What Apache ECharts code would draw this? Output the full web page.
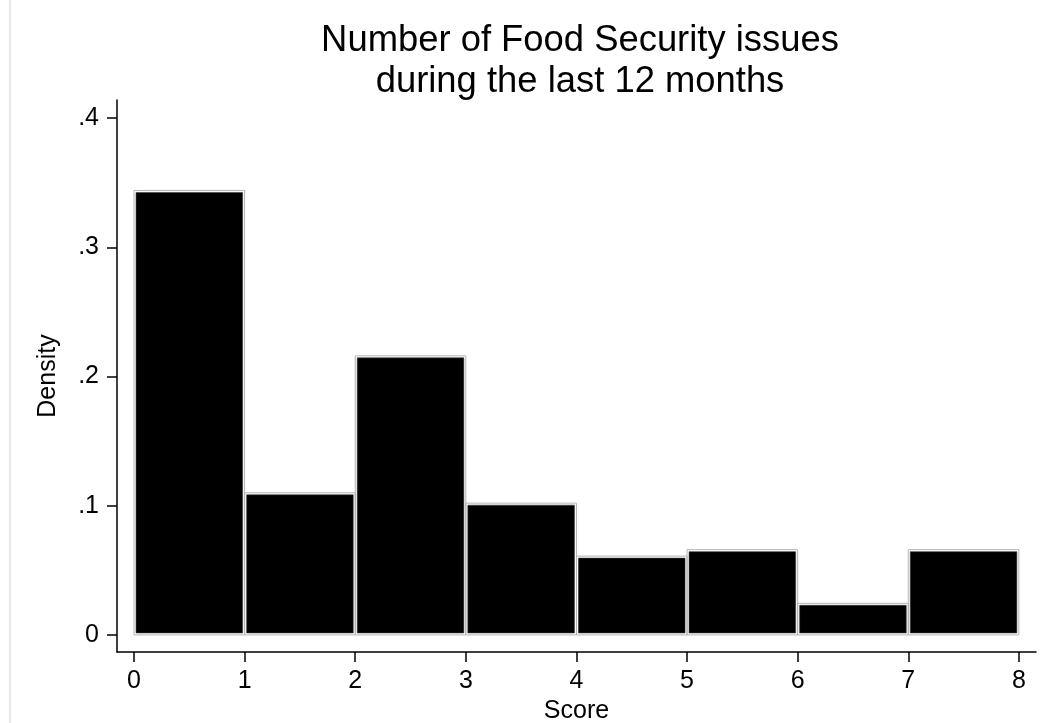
<!DOCTYPE html>
<html>
<head>
<meta charset="utf-8">
<script src="https://cdn.jsdelivr.net/npm/echarts@6/dist/echarts.min.js"></script>
<style>
  html, body { margin: 0; padding: 0; background: #fff; }
  #chart { width: 1047px; height: 723px; }
</style>
</head>
<body>
<div id="chart"></div>
<script>
// Histogram bins (score ranges) and their densities
const binStarts = [0, 1, 2, 3, 4, 5, 6, 7];
const binEnds   = [1, 2, 3, 4, 5, 6, 7, 8];
const densities = [0.344, 0.110, 0.216, 0.102, 0.061, 0.066, 0.0245, 0.066];

// Axis ticks
const xTicks = [0, 1, 2, 3, 4, 5, 6, 7, 8];
const yTicks = [0, 0.1, 0.2, 0.3, 0.4];
const yTickLabels = ['0', '.1', '.2', '.3', '.4'];

const FONT = '"Liberation Sans", Arial, Helvetica, sans-serif';

const barData = binStarts.map((s, i) => [s, binEnds[i], densities[i]]);

const chart = echarts.init(document.getElementById('chart'), null, { renderer: 'canvas' });

// Each bin: thin grey outline on the bin edges, black fill inset inside it
function renderBin(params, api) {
  const lo = api.coord([api.value(0), 0]);
  const hi = api.coord([api.value(1), api.value(2)]);
  const x = lo[0], y = hi[1], w = hi[0] - lo[0], h = lo[1] - hi[1];
  const inset = 2;
  return {
    type: 'group',
    children: [
      {
        type: 'rect',
        shape: { x: x, y: y, width: w, height: h },
        style: { fill: null, stroke: '#b4b4b4', lineWidth: 1 }
      },
      {
        type: 'rect',
        shape: { x: x + inset, y: y + inset, width: w - 2 * inset, height: h - 2 * inset },
        style: { fill: '#000', stroke: '#3a3a3a', lineWidth: 0.6 }
      }
    ]
  };
}

const option = {
  backgroundColor: '#fff',
  animation: false,
  title: {
    text: 'Number of Food Security issues\nduring the last 12 months',
    left: 575,
    top: 15,
    textAlign: 'center',
    textStyle: {
      fontFamily: FONT,
      fontSize: 36.4,
      fontWeight: 'normal',
      color: '#000',
      lineHeight: 41
    }
  },
  grid: {
    left: 117,
    right: 11,
    top: 100,
    bottom: 71,
    containLabel: false,
    outerBoundsMode: 'none'
  },
  xAxis: {
    type: 'value',
    min: -0.154,
    max: 8.155,
    name: 'Score',
    nameLocation: 'middle',
    nameGap: 42,
    nameTextStyle: { fontFamily: FONT, fontSize: 25, color: '#000' },
    axisLine: { show: true, onZero: false, lineStyle: { color: '#000', width: 1.5 } },
    axisTick: { show: true, length: 10, customValues: xTicks, lineStyle: { color: '#000', width: 1.5 } },
    axisLabel: {
      customValues: xTicks,
      margin: 17,
      fontFamily: FONT,
      fontSize: 25,
      color: '#000'
    },
    splitLine: { show: false }
  },
  yAxis: {
    type: 'value',
    min: -0.0132,
    max: 0.414,
    name: 'Density',
    nameLocation: 'middle',
    nameRotate: 90,
    nameGap: 56,
    nameTextStyle: { fontFamily: FONT, fontSize: 25, color: '#000' },
    axisLine: { show: true, onZero: false, lineStyle: { color: '#000', width: 1.5 } },
    axisTick: { show: true, length: 10, customValues: yTicks, lineStyle: { color: '#000', width: 1.5 } },
    axisLabel: {
      customValues: yTicks,
      margin: 18,
      fontFamily: FONT,
      fontSize: 25,
      color: '#000',
      formatter: function (v) {
        const i = yTicks.findIndex(t => Math.abs(t - v) < 1e-9);
        return i >= 0 ? yTickLabels[i] : '';
      }
    },
    splitLine: { show: false }
  },
  graphic: [
    {
      type: 'line',
      shape: { x1: 10, y1: 0, x2: 10, y2: 723 },
      style: { stroke: '#e4ebef', lineWidth: 2 },
      silent: true
    }
  ],
  series: [
    {
      type: 'custom',
      renderItem: renderBin,
      data: barData,
      encode: { x: [0, 1], y: 2 },
      clip: false
    }
  ]
};

chart.setOption(option);
</script>
</body>
</html>
